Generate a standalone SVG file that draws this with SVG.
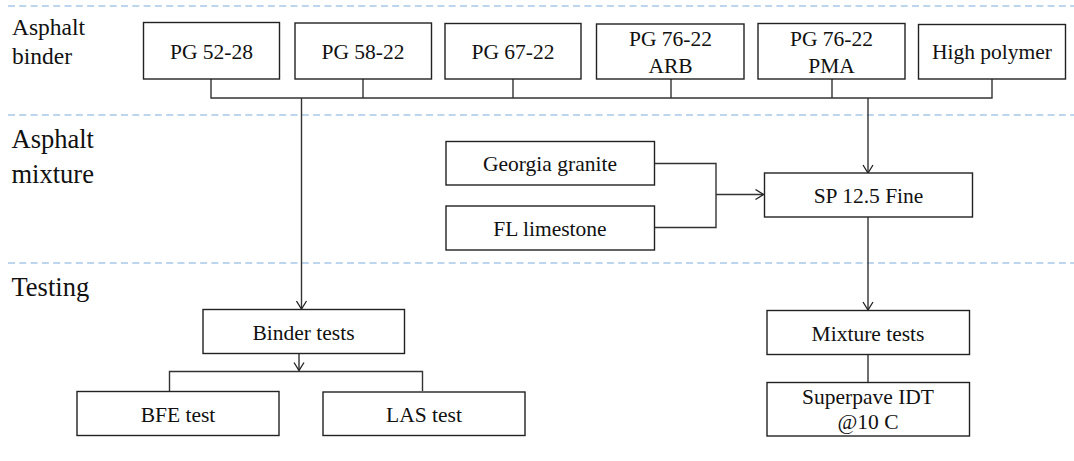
<svg xmlns="http://www.w3.org/2000/svg" width="1074" height="461" viewBox="0 0 1074 461">
<style>
.bg{fill:#fff}
.sep{stroke:#a8c8e8;stroke-width:1.3;stroke-dasharray:7 4.3;fill:none}
.box{fill:#fff;stroke:#222;stroke-width:1.4}
.t{font-family:'Liberation Serif',serif;font-size:21.5px;fill:#111;text-anchor:middle}
.lab{font-family:'Liberation Serif',serif;fill:#111}
.c{fill:none;stroke:#333;stroke-width:1.4}
</style>
<defs>
<marker id="arr" markerWidth="12" markerHeight="12" refX="9" refY="6" orient="auto" markerUnits="userSpaceOnUse">
<path d="M1,1 L9,6 L1,11" fill="none" stroke="#222" stroke-width="1.3"/>
</marker>
</defs>
<rect class="bg" x="0" y="0" width="1074" height="461"/>
<g id="separators">
<line class="sep" x1="8" y1="6" x2="1074" y2="6"/>
<line class="sep" x1="8" y1="115" x2="1074" y2="115"/>
<line class="sep" x1="8" y1="263" x2="1074" y2="263"/>
</g>
<g id="labels">
<text class="lab" x="12" y="35" font-size="23.5">Asphalt</text>
<text class="lab" x="12" y="64" font-size="23.5">binder</text>
<text class="lab" x="11.5" y="148" font-size="26.5">Asphalt</text>
<text class="lab" x="11.5" y="183" font-size="26.5">mixture</text>
<text class="lab" x="11.5" y="296" font-size="26.5">Testing</text>
</g>
<g id="connectors">
<polyline class="c" points="211,79 211,98 992,98 992,79"/>
<line class="c" x1="363" y1="79" x2="363" y2="98"/>
<line class="c" x1="513" y1="79" x2="513" y2="98"/>
<line class="c" x1="671" y1="79" x2="671" y2="98"/>
<line class="c" x1="832" y1="79" x2="832" y2="98"/>
<line class="c" x1="301.5" y1="98" x2="301.5" y2="309" marker-end="url(#arr)"/>
<line class="c" x1="868" y1="98" x2="868" y2="173" marker-end="url(#arr)"/>
<polyline class="c" points="655,163.5 716,163.5 716,227.5 655,227.5"/>
<line class="c" x1="716" y1="194.5" x2="763.5" y2="194.5" marker-end="url(#arr)"/>
<line class="c" x1="868" y1="217" x2="868" y2="310" marker-end="url(#arr)"/>
<line class="c" x1="299" y1="353" x2="299" y2="370.5" marker-end="url(#arr)"/>
<polyline class="c" points="169.5,391 169.5,371.5 422.5,371.5 422.5,391"/>
<line class="c" x1="868" y1="355" x2="868" y2="382"/>
</g>
<g id="n-pg5228"><rect class="box" x="143.5" y="22.5" width="136" height="56.5"/><text class="t" x="211.5" y="58.5">PG 52-28</text></g>
<g id="n-pg5822"><rect class="box" x="295" y="23" width="136.5" height="56"/><text class="t" x="363" y="58.5">PG 58-22</text></g>
<g id="n-pg6722"><rect class="box" x="445" y="23.5" width="136" height="55.5"/><text class="t" x="513" y="59">PG 67-22</text></g>
<g id="n-arb"><rect class="box" x="596.5" y="24" width="147.5" height="55"/><text class="t" x="670.5" y="45.5">PG 76-22</text><text class="t" x="670.5" y="72.5">ARB</text></g>
<g id="n-pma"><rect class="box" x="758" y="23.5" width="147" height="55.5"/><text class="t" x="831.5" y="45.5">PG 76-22</text><text class="t" x="831.5" y="72.5">PMA</text></g>
<g id="n-hp"><rect class="box" x="918.5" y="24.5" width="147" height="54.5"/><text class="t" x="992" y="59">High polymer</text></g>
<g id="n-granite"><rect class="box" x="446" y="141.5" width="208.5" height="43.5"/><text class="t" x="550" y="171">Georgia granite</text></g>
<g id="n-limestone"><rect class="box" x="446" y="206" width="208.5" height="44"/><text class="t" x="550" y="235.5">FL limestone</text></g>
<g id="n-sp"><rect class="box" x="764.5" y="173" width="208" height="44"/><text class="t" x="868.5" y="202.5">SP 12.5 Fine</text></g>
<g id="n-bindertests"><rect class="box" x="203" y="309.5" width="201.5" height="44"/><text class="t" x="303.5" y="340">Binder tests</text></g>
<g id="n-bfe"><rect class="box" x="77" y="391.5" width="202" height="44"/><text class="t" x="178" y="421.5">BFE test</text></g>
<g id="n-las"><rect class="box" x="323" y="392" width="202" height="43.5"/><text class="t" x="424" y="421.5">LAS test</text></g>
<g id="n-mixtests"><rect class="box" x="767" y="310.5" width="202.5" height="44"/><text class="t" x="868" y="340.5">Mixture tests</text></g>
<g id="n-idt"><rect class="box" x="767" y="382.5" width="202.5" height="53.5"/><text class="t" x="868" y="404">Superpave IDT</text><text class="t" x="868" y="429">@10 C</text></g>
</svg>
